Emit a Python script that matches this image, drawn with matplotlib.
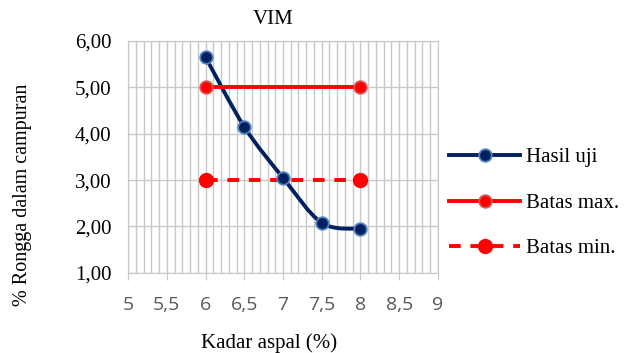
import numpy as np
import matplotlib.pyplot as plt
from matplotlib.path import Path
from matplotlib.patches import PathPatch
from matplotlib.lines import Line2D
from matplotlib.ticker import MultipleLocator, FuncFormatter

# data
kadar = [6, 6.5, 7, 7.5, 8]
hasil_uji = [5.65, 4.15, 3.05, 2.08, 1.95]
batas_x = [6, 8]
batas_max = [5.0, 5.0]
batas_min = [3.0, 3.0]

navy = '#002060'
navy_edge = '#4f81bd'
red = '#ff0000'
serif = 'Liberation Serif'

fig = plt.figure(figsize=(6.31, 3.53), dpi=100)
ax = fig.add_axes([0.203, 0.227, 0.491, 0.657])

ax.set_xlim(5, 9)
ax.set_ylim(1, 6)
ax.xaxis.set_major_locator(MultipleLocator(0.5))
ax.xaxis.set_minor_locator(MultipleLocator(0.1))
ax.yaxis.set_major_locator(MultipleLocator(1))
ax.grid(which='major', axis='both', color='#c8c8c8', lw=1.0)
ax.grid(which='minor', axis='x', color='#c8c8c8', lw=1.0)
ax.set_axisbelow(True)
for s in ax.spines.values():
    s.set_color('#c8c8c8')
ax.tick_params(axis='x', which='major', length=5, color='#c8c8c8',
               labelcolor='#595959', labelsize=14, pad=12)
ax.tick_params(axis='x', which='minor', length=0)
ax.tick_params(axis='y', length=0, labelsize=15, pad=12)
fmt_x = FuncFormatter(lambda v, p: ('%g' % v).replace('.', ','))
fmt_y = FuncFormatter(lambda v, p: ('%.2f' % v).replace('.', ','))
ax.xaxis.set_major_formatter(fmt_x)
ax.yaxis.set_major_formatter(fmt_y)
for lab in ax.get_xticklabels():
    lab.set_family('Open Sans')
for lab in ax.get_yticklabels():
    lab.set_family(serif)

# smoothed line for Hasil uji (Catmull-Rom as cubic bezier segments)
px = np.array(kadar, float)
py = np.array(hasil_uji, float)
n = len(px)
verts = [(px[0], py[0])]
codes = [Path.MOVETO]
for i in range(n - 1):
    p0 = (px[max(i - 1, 0)], py[max(i - 1, 0)])
    p1 = (px[i], py[i])
    p2 = (px[i + 1], py[i + 1])
    p3 = (px[min(i + 2, n - 1)], py[min(i + 2, n - 1)])
    c1 = (p1[0] + (p2[0] - p0[0]) / 6, p1[1] + (p2[1] - p0[1]) / 6)
    c2 = (p2[0] - (p3[0] - p1[0]) / 6, p2[1] - (p3[1] - p1[1]) / 6)
    verts += [c1, c2, p2]
    codes += [Path.CURVE4] * 3
ax.add_patch(PathPatch(Path(verts, codes), fill=False, edgecolor=navy,
                       lw=2.8, capstyle='round', zorder=3))
ax.plot(kadar, hasil_uji, ls='none', marker='o', ms=9, mfc=navy,
        mec=navy_edge, mew=1.3, zorder=4)

ax.plot(batas_x, batas_max, color=red, lw=2.8, marker='o', ms=9,
        mfc=red, mec='#e05050', mew=1.3, zorder=3)
ax.plot(batas_x, batas_min, color=red, lw=2.8, ls=(0, (3, 2.5)),
        marker='o', ms=10, mfc=red, mec=red, zorder=3)

fig.text(273 / 631, 1 - 20 / 353, 'VIM', family=serif, fontsize=15,
         ha='center', va='center')
fig.text(269 / 631, 1 - 343 / 353, 'Kadar aspal (%)', family=serif,
         fontsize=15, ha='center', va='center')
fig.text(23 / 631, 1 - 195 / 353, '% Rongga dalam campuran', family=serif,
         fontsize=14.5, ha='center', va='center', rotation=90)

handles = [
    Line2D([], [], color=navy, lw=2.8, marker='o', ms=9, mfc=navy,
           mec=navy_edge, mew=1.3),
    Line2D([], [], color=red, lw=2.8, marker='o', ms=9, mfc=red,
           mec='#e05050', mew=1.3),
    Line2D([], [], color=red, lw=2.8, ls=(0, (3, 2.5)), marker='o', ms=10,
           mfc=red, mec=red),
]
fig.legend(handles, ['Hasil uji', 'Batas max.', 'Batas min.'],
           loc='center left', bbox_to_anchor=(0.682, 1 - 203 / 353),
           frameon=False, prop={'family': serif, 'size': 15},
           handlelength=3.4, labelspacing=1.25, handletextpad=0.3)

fig.savefig('out.png', dpi=100)
